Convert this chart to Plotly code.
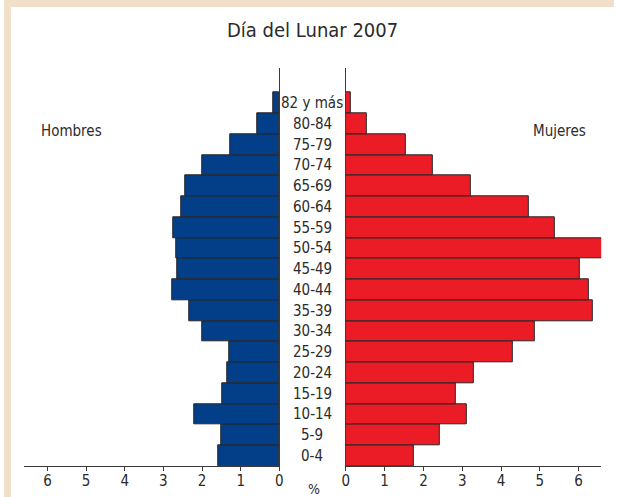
"""Population pyramid for Día del Lunar 2007."""
import plotly.graph_objects as go

# age groups from bottom to top
age_groups = ['0-4', '5-9', '10-14', '15-19', '20-24', '25-29', '30-34', '35-39',
              '40-44', '45-49', '50-54', '55-59', '60-64', '65-69', '70-74',
              '75-79', '80-84', '82 y más']

# percentages
hombres = [1.58, 1.51, 2.21, 1.48, 1.34, 1.30, 2.00, 2.33, 2.76,
           2.63, 2.68, 2.74, 2.53, 2.44, 2.00, 1.28, 0.58, 0.17]
mujeres = [1.76, 2.41, 3.11, 2.84, 3.31, 4.30, 4.86, 6.36, 6.27,
           6.02, 6.61, 5.38, 4.71, 3.21, 2.24, 1.55, 0.55, 0.12]

tick_values = [0, 1, 2, 3, 4, 5, 6]

W, H = 618, 497
FONT = 'Liberation Sans Narrow, DejaVu Sans Condensed, Arial Narrow, sans-serif'
TEXT_COLOR = '#2b2b2b'
LINE_COLOR = '#3a3a3a'


def px_x(x):
    return x / W


def px_y(y):
    return 1 - y / H


def get_pyramid():
    fig = go.Figure()
    bar_line = dict(color='#262626', width=1)
    fig.add_trace(go.Bar(y=age_groups, x=hombres, orientation='h',
                         marker=dict(color='#023f88', line=bar_line),
                         xaxis='x', yaxis='y', showlegend=False))
    fig.add_trace(go.Bar(y=age_groups, x=mujeres, orientation='h',
                         marker=dict(color='#ec1c27', line=bar_line),
                         xaxis='x2', yaxis='y2', showlegend=False))

    axis_common = dict(showline=True, linecolor=LINE_COLOR, linewidth=1.3,
                       ticks='outside', ticklen=4, tickcolor=LINE_COLOR,
                       tickvals=tick_values, showgrid=False, zeroline=False,
                       ticklabelstandoff=-3,
                       tickfont=dict(size=15, color=TEXT_COLOR, family=FONT),
                       fixedrange=True)
    y_dom = [px_y(466.3), px_y(68.3)]
    y_common = dict(showline=True, linecolor=LINE_COLOR, linewidth=1.3,
                    showticklabels=False, ticks='', showgrid=False,
                    categoryorder='array', categoryarray=age_groups,
                    range=[-0.5, 18.67], domain=y_dom, fixedrange=True)

    fig.update_layout(
        width=W, height=H,
        margin=dict(l=0, r=0, t=0, b=0),
        paper_bgcolor='white', plot_bgcolor='white',
        bargap=0,
        xaxis=dict(axis_common, domain=[px_x(20.5), px_x(279)], range=[6.60, 0],
                   anchor='y'),
        xaxis2=dict(axis_common, domain=[px_x(346.3), px_x(605)], range=[0, 6.58],
                    anchor='y2'),
        yaxis=dict(y_common, anchor='x', side='right'),
        yaxis2=dict(y_common, anchor='x2', side='left'),
        font=dict(family=FONT, color=TEXT_COLOR),
    )

    # age labels in the middle gap
    for age in age_groups:
        fig.add_annotation(x=px_x(312.5), xref='paper', y=age, yref='y',
                           text=age, showarrow=False,
                           font=dict(size=15, color=TEXT_COLOR, family=FONT))

    labels = [
        ('Día del Lunar 2007', 313, 30, 20),
        ('Hombres', 68, 131, 15),
        ('Mujeres', 563, 131, 15),
        ('%', 314, 489, 14),
    ]
    for text, x, y, size in labels:
        fig.add_annotation(x=px_x(x), y=px_y(y), xref='paper', yref='paper',
                           text=text, showarrow=False, xanchor='center', yanchor='middle',
                           font=dict(size=size, color=TEXT_COLOR, family=FONT))

    # beige frame on the top and left edges
    frame = '#f1e0c9'
    fig.add_shape(type='rect', xref='paper', yref='paper', x0=0, x1=1,
                  y0=px_y(7), y1=1, fillcolor=frame, line_width=0)
    fig.add_shape(type='rect', xref='paper', yref='paper', x0=0, x1=px_x(7),
                  y0=0, y1=1, fillcolor=frame, line_width=0)
    return fig


fig = get_pyramid()
# the page body has a default 8px margin, drop it so the figure sits at the corner
fig.write_html("out.html", config={'displayModeBar': False},
               post_script="document.body.style.margin = '0';")
